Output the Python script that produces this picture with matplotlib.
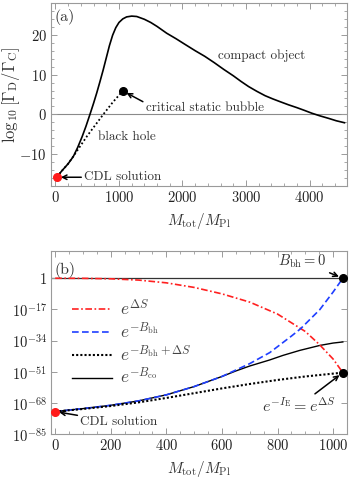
# Two-panel figure: decay rate ratio (a) and tunnelling factors (b) vs total mass
import matplotlib
matplotlib.use("Agg")
import matplotlib.pyplot as plt
import numpy as np
from matplotlib.ticker import FixedLocator, FixedFormatter, MultipleLocator, NullLocator

# panel (a) data: log10[Gamma_D / Gamma_C]
A_CO_MASS = [19, 100, 200, 281, 350, 420, 480, 543, 600, 650, 700, 750, 800, 850, 900, 950, 1000,
             1060, 1120, 1200, 1280, 1400, 1500, 1600, 1751, 1900, 2039, 2200, 2350, 2500, 2650,
             2800, 2920, 3040, 3170, 3300, 3420, 3535, 3670, 3800, 3920, 4035, 4170, 4300, 4420, 4550]
A_CO_RATIO = [-15.8, -14.2, -12.4, -10.6, -8.3, -5.6, -3.0, 0.0, 2.8, 5.4, 8.2, 11.1, 14.2, 17.3, 19.9,
              21.8, 23.1, 24.0, 24.5, 24.7, 24.6, 23.9, 23.1, 22.1, 20.4, 19.0, 17.6, 16.0, 14.6, 13.0,
              11.3, 9.7, 8.3, 7.0, 5.8, 4.7, 3.9, 3.2, 2.4, 1.7, 1.0, 0.3, -0.4, -1.0, -1.6, -2.1]
A_BH_MASS = [19, 100, 200, 300, 500, 753, 900, 1060]
A_BH_RATIO = [-15.8, -14.2, -12.4, -10.1, -5.4, 0.0, 3.0, 5.9]
A_XTICKS = [0, 1000, 2000, 3000, 4000]
A_YTICKS = [-10, 0, 10, 20]

# panel (b) data: log10 of each factor
B_DS_MASS = [0, 100, 200, 300, 400, 500, 600, 700, 800, 900, 950, 1000, 1035]
B_DS_LOG = [0, -0.05, -0.3, -1.0, -2.5, -5.0, -8.5, -13.0, -19.5, -29.0, -36.0, -44.0, -51.4]
B_BH_MASS = [0, 100, 200, 300, 400, 500, 600, 700, 772, 850, 883, 952, 1000, 1035]
B_BH_LOG = [-72.6, -71.0, -69.2, -66.8, -63.5, -59.0, -53.5, -46.5, -40.5, -31.5, -27.5, -17.1, -7.5, 0.0]
B_BHDS_MASS = [0, 100, 200, 300, 400, 500, 600, 700, 800, 900, 1035]
B_BHDS_LOG = [-72.6, -71.2, -69.6, -67.6, -65.2, -62.6, -60.0, -57.6, -55.4, -53.5, -51.4]
B_CO_MASS = [0, 100, 200, 300, 400, 500, 600, 650, 700, 772, 820, 880, 952, 1000, 1035]
B_CO_LOG = [-72.6, -71.0, -69.2, -66.8, -63.5, -59.0, -53.5, -50.5, -47.8, -44.5, -42.0, -39.3, -36.6, -35.3, -34.7]
B_XTICKS = [0, 200, 400, 600, 800, 1000]
B_YTICK_EXP = [0, -17, -34, -51, -68, -85]
B_YTICK_LABELS = ["$1$", "$10^{-17}$", "$10^{-34}$", "$10^{-51}$", "$10^{-68}$", "$10^{-85}$"]

TEXT_GRAY = "#333333"
SPINE_GRAY = "#9a9a9a"

plt.rc("font", family="serif", serif="cmr10", size=10)
plt.rc("mathtext", fontset="cm")
plt.rcParams["axes.formatter.use_mathtext"] = True

fig = plt.figure(figsize=(3.55, 4.80), dpi=100)
ax_a = fig.add_axes([0.1437, 0.6125, 0.8338, 0.3813])
ax_b = fig.add_axes([0.1437, 0.0952, 0.8338, 0.3825])

for ax in (ax_a, ax_b):
    for sp in ax.spines.values():
        sp.set_color(SPINE_GRAY)
        sp.set_linewidth(0.8)
    ax.tick_params(which="both", direction="in", top=True, right=True, color=SPINE_GRAY,
                   labelcolor="#222222", labelsize=10.5, pad=3)
    ax.tick_params(which="major", length=4, width=0.7)
    ax.tick_params(which="minor", length=2, width=0.6)

# ---- panel (a)
ax_a.axhline(0, color="#8a8a8a", lw=0.8, zorder=1)
ax_a.plot(A_CO_MASS, A_CO_RATIO, color="black", lw=1.2, zorder=3)
ax_a.plot(A_BH_MASS, A_BH_RATIO, color="black", lw=1.3, ls=(0, (1, 1.3)), zorder=3)
ax_a.plot(A_CO_MASS[0], A_CO_RATIO[0], "o", color="#ff1a1a", ms=5.5, zorder=5)
ax_a.plot(A_BH_MASS[-1], A_BH_RATIO[-1], "o", color="black", ms=5.5, zorder=5)
ax_a.set_xlim(-70, 4590)
ax_a.set_ylim(-18, 28)
ax_a.xaxis.set_major_locator(FixedLocator(A_XTICKS))
ax_a.xaxis.set_minor_locator(MultipleLocator(200))
ax_a.yaxis.set_major_locator(FixedLocator(A_YTICKS))
ax_a.yaxis.set_minor_locator(MultipleLocator(2))
ax_a.set_xlabel(r"$M_{\rm tot}/M_{\rm Pl}$", fontsize=11, color=TEXT_GRAY, labelpad=4)
ax_a.set_ylabel(r"$\log_{10}[\Gamma_{\rm D}/\Gamma_{\rm C}]$", fontsize=12, color=TEXT_GRAY)
ax_a.yaxis.set_label_coords(-0.098, 0.5)

ax_a.text(0.012, 0.965, "(a)", transform=ax_a.transAxes, ha="left", va="top", fontsize=11.5, color=TEXT_GRAY)
ax_a.text(3250, 14.8, "compact object", ha="center", va="center", fontsize=9.5, color=TEXT_GRAY)
ax_a.text(1130, -5.6, "black hole", ha="center", va="center", fontsize=9.5, color=TEXT_GRAY)
arrow = dict(arrowstyle="->", color="black", lw=1.1, mutation_scale=8, shrinkA=0, shrinkB=3)
ax_a.annotate("critical static bubble", xy=(A_BH_MASS[-1], A_BH_RATIO[-1]), xytext=(1420, 1.6),
              ha="left", va="center", fontsize=9.5, color=TEXT_GRAY,
              arrowprops=dict(arrow, relpos=(0.0, 0.9)))
ax_a.annotate("CDL solution", xy=(A_CO_MASS[0], A_CO_RATIO[0]), xytext=(450, -15.8),
              ha="left", va="center", fontsize=9.5, color=TEXT_GRAY, arrowprops=arrow)

# ---- panel (b)
ax_b.set_yscale("log")
ax_b.axhline(1, color="#333333", lw=0.9, zorder=1)
ax_b.plot(B_DS_MASS, 10.0 ** np.array(B_DS_LOG), color="#ff2020", lw=1.2,
          ls=(0, (4, 1.5, 1, 1.5)), label=r"$e^{\Delta S}$", zorder=3)
ax_b.plot(B_BH_MASS, 10.0 ** np.array(B_BH_LOG), color="#1f3fff", lw=1.2,
          ls=(0, (4, 2)), label=r"$e^{-B_{\rm bh}}$", zorder=3)
ax_b.plot(B_BHDS_MASS, 10.0 ** np.array(B_BHDS_LOG), color="black", lw=1.5,
          ls=(0, (1, 1)), label=r"$e^{-B_{\rm bh}+\Delta S}$", zorder=3)
ax_b.plot(B_CO_MASS, 10.0 ** np.array(B_CO_LOG), color="black", lw=1.0,
          label=r"$e^{-B_{\rm co}}$", zorder=2)
ax_b.plot(B_BH_MASS[0], 10.0 ** B_BH_LOG[0], "o", color="#ff1a1a", ms=5.5, zorder=5)
ax_b.plot(B_BH_MASS[-1], 10.0 ** B_BH_LOG[-1], "o", color="black", ms=5.5, zorder=5)
ax_b.plot(B_DS_MASS[-1], 10.0 ** B_DS_LOG[-1], "o", color="black", ms=5.5, zorder=5)
ax_b.set_xlim(-15, 1050)
ax_b.set_ylim(1e-85, 1e15)
ax_b.xaxis.set_major_locator(FixedLocator(B_XTICKS))
ax_b.xaxis.set_minor_locator(MultipleLocator(50))
ax_b.yaxis.set_major_locator(FixedLocator([10.0 ** e for e in B_YTICK_EXP]))
ax_b.yaxis.set_major_formatter(FixedFormatter(B_YTICK_LABELS))
ax_b.yaxis.set_minor_locator(NullLocator())
ax_b.set_xlabel(r"$M_{\rm tot}/M_{\rm Pl}$", fontsize=11, color=TEXT_GRAY, labelpad=4)

ax_b.text(0.012, 0.94, "(b)", transform=ax_b.transAxes, ha="left", va="top", fontsize=11.5, color=TEXT_GRAY)
leg = ax_b.legend(loc="center left", bbox_to_anchor=(0.07, 0.50), frameon=False, fontsize=12.5,
                  handlelength=2.3, handletextpad=0.5, labelspacing=0.15, borderpad=0, borderaxespad=0)
for t in leg.get_texts():
    t.set_color("#444444")
ax_b.annotate(r"$B_{\rm bh}=0$", xy=(B_BH_MASS[-1], 10.0 ** B_BH_LOG[-1]), xytext=(890, 10.0 ** 9),
              ha="center", va="center", fontsize=10.5, color=TEXT_GRAY, arrowprops=arrow)
ax_b.annotate(r"$e^{-I_{\rm E}}=e^{\Delta S}$", xy=(B_DS_MASS[-1], 10.0 ** B_DS_LOG[-1]),
              xytext=(878, 10.0 ** -69.5), ha="center", va="center", fontsize=11.5, color=TEXT_GRAY,
              arrowprops=arrow)
ax_b.annotate("CDL solution", xy=(B_BH_MASS[0], 10.0 ** B_BH_LOG[0]), xytext=(90, 10.0 ** -78.5),
              ha="left", va="center", fontsize=9.5, color=TEXT_GRAY, arrowprops=arrow)

fig.savefig("out.png", dpi=100)
